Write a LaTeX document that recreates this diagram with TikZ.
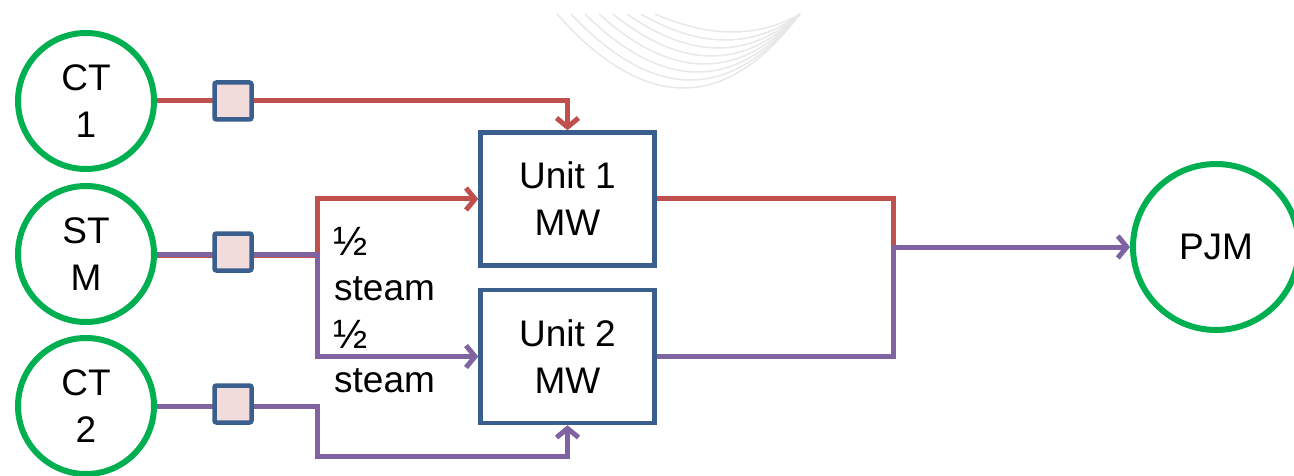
\documentclass[tikz,border=0pt]{standalone}
\usepackage{fontspec}
\setmainfont{Liberation Sans}
\usetikzlibrary{arrows.meta,backgrounds}
\definecolor{cred}{HTML}{C0504D}
\definecolor{cpurple}{HTML}{8064A2}
\definecolor{cblue}{HTML}{3A5F8E}
\definecolor{cgreen}{HTML}{00B050}
\definecolor{cpink}{HTML}{F2DCDB}
\definecolor{carc}{HTML}{E8E8E8}
\begin{document}
\begin{tikzpicture}[x=1pt,y=-1pt,
  bigfont/.style={font=\fontsize{37}{47}\selectfont},
  gen/.style={circle,draw=cgreen,fill=white,line width=6pt,minimum size=136pt,inner sep=0pt,align=center,bigfont},
  unitbox/.style={draw=cblue,fill=white,line width=4.5pt,minimum width=174pt,minimum height=133pt,inner sep=0pt,align=center,bigfont},
  meter/.style={draw=cblue,fill=cpink,line width=4.5pt,minimum size=37pt,inner sep=0pt,rounded corners=2pt},
  redline/.style={draw=cred,line width=5pt,line cap=rect},
  purpline/.style={draw=cpurple,line width=5pt,line cap=rect},
  tip/.style={-{Straight Barb[length=9pt,width=22pt]}},
  lbl/.style={anchor=base west,inner sep=0pt,bigfont},
  halflbl/.style={anchor=base west,inner sep=0pt,font=\fontsize{41}{47}\selectfont},
  arcline/.style={draw=carc,line width=1.5pt}]
\useasboundingbox (0,0) rectangle (1294,476);
\clip (0,0) rectangle (1294,476);
% faint background arcs
\begin{scope}
\clip (0,14) rectangle (1294,476);
\foreach \i in {0,...,7}{
  \pgfmathsetmacro\sx{557+14*\i}
  \pgfmathsetmacro\by{88-8*\i}
  \pgfmathsetmacro\px{(\sx+800)/2+10}
  \pgfmathsetmacro\py{2*\by-14}
  \draw[arcline] (\sx,14) .. controls ({\sx+2/3*(\px-\sx)},{14+2/3*(\py-14)}) and ({800+2/3*(\px-800)},{14+2/3*(\py-14)}) .. (800,14);
}
\end{scope}
% nodes
\node[gen] (ct1) at (86,101) {CT\\1};
\node[gen] (stm) at (86,254) {ST\\M};
\node[gen] (ct2) at (86,406) {CT\\2};
\node[gen,minimum size=166pt] (pjm) at (1216,247) {PJM};
\node[meter] (m1) at (233,101) {};
\node[meter] (m2) at (233,252) {};
\node[meter] (m3) at (233,404) {};
\node[unitbox] (u1) at (567.5,199) {Unit 1\\MW};
\node[unitbox] (u2) at (567.5,356.5) {Unit 2\\MW};
\node[halflbl] (h1) at (333,255) {½};
\node[lbl] (s1) at (334,300) {steam};
\node[halflbl] (h2) at (333,348) {½};
\node[lbl] (s2) at (334,392) {steam};
\coordinate (br) at (317,254);
\coordinate (c2a) at (317,406);
\coordinate (c2b) at (317,456);
\coordinate (jn) at (893,247);
% connectors
\begin{pgfonlayer}{background}
\draw[redline] (ct1.center) -- (m1.center);
\draw[redline,tip] (m1.center) -| (u1.north);
\draw[redline] ([yshift=-1.5pt]stm.center) -- ([yshift=-1.5pt]br);
\draw[purpline] (stm.center) -- (br);
\draw[redline,tip] (br) |- (u1.west);
\draw[purpline,tip] (br) |- (u2.west);
\draw[purpline] (ct2.center) -- (c2a);
\draw[purpline,tip] (c2a) -- (c2b) -| (u2.south);
\draw[redline] (u1.center) -| (jn);
\draw[purpline] (u2.center) -| (jn);
\draw[purpline,tip] (jn) -- (pjm.west);
\end{pgfonlayer}
\end{tikzpicture}
\end{document}
